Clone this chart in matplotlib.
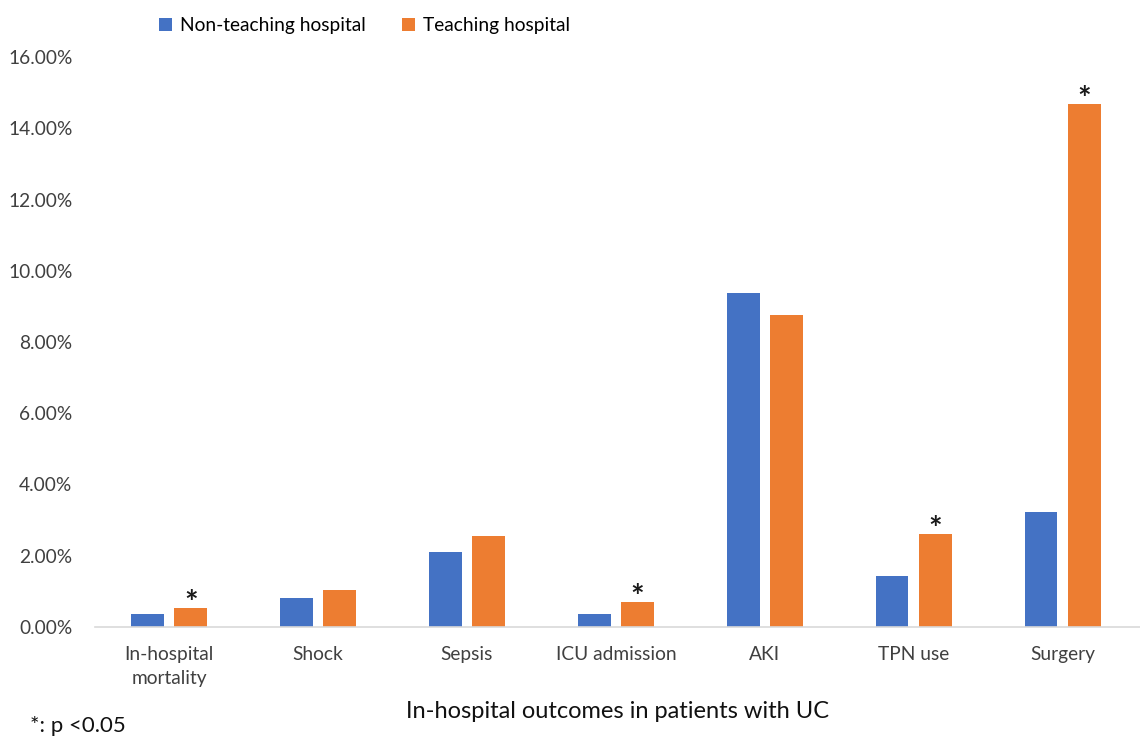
import matplotlib.pyplot as plt
from matplotlib.ticker import FuncFormatter

# In-hospital outcomes (%) in patients with UC
categories = ['In-hospital\nmortality', 'Shock', 'Sepsis', 'ICU admission',
              'AKI', 'TPN use', 'Surgery']
non_teaching = [0.35, 0.80, 2.09, 0.35, 9.38, 1.42, 3.23]
teaching = [0.52, 1.04, 2.56, 0.69, 8.77, 2.61, 14.69]
significant = [True, False, False, True, False, True, True]

blue = '#4472C4'
orange = '#ED7D31'

plt.rcParams['font.family'] = ['Lato', 'DejaVu Sans']

fig = plt.figure(figsize=(11.4, 7.41), dpi=100)
ax = fig.add_axes([0.083, 0.154, 0.917, 0.769])

x = list(range(len(categories)))
w = 0.22
off = 0.145
ax.bar([i - off for i in x], non_teaching, width=w, color=blue,
       label='Non-teaching hospital')
ax.bar([i + off for i in x], teaching, width=w, color=orange,
       label='Teaching hospital')

# significance marks
for i, sig in enumerate(significant):
    if sig:
        ax.text(i + off, teaching[i] - 0.17, '*', ha='center', va='baseline',
                fontsize=23, fontweight='bold', color='#1a1a1a')

ax.set_xlim(-0.5, 6.52)
ax.set_ylim(0, 16)
ax.set_yticks(range(0, 17, 2))
ax.yaxis.set_major_formatter(FuncFormatter(lambda v, p: f'{v:.2f}%'))
ax.set_xticks(x)
ax.set_xticklabels(categories, fontsize=13.8, color='#404040', linespacing=1.45)
ax.tick_params(axis='y', length=0, pad=16, labelsize=13.8, labelcolor='#404040')
ax.tick_params(axis='x', length=0, pad=14)

for s in ['top', 'right', 'left']:
    ax.spines[s].set_visible(False)
ax.spines['bottom'].set_color('#D9D9D9')
ax.spines['bottom'].set_linewidth(1.2)

ax.set_xlabel('In-hospital outcomes in patients with UC', fontsize=17,
              color='#111111', labelpad=10)

fig.legend(loc='upper left', bbox_to_anchor=(0.124, 1.0), ncol=2,
           frameon=False, fontsize=13.8, handlelength=0.7, handleheight=0.7,
           handletextpad=0.4, columnspacing=1.9)

fig.text(0.026, 0.012, '*: p <0.05', fontsize=16, color='#111111')

fig.savefig('out.png', dpi=100)
